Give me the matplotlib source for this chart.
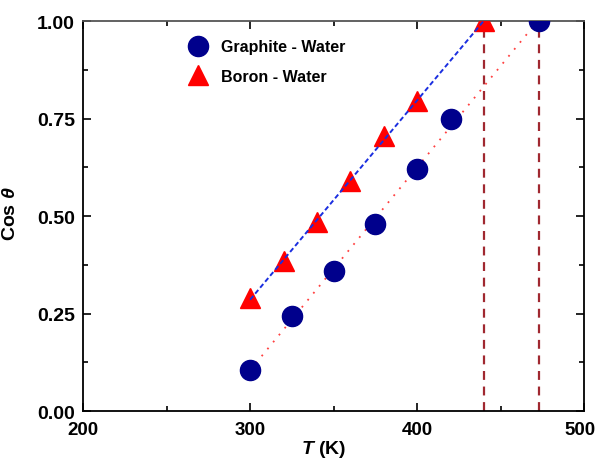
import numpy as np
import matplotlib
matplotlib.use('Agg')
import matplotlib.pyplot as plt
from matplotlib.ticker import MultipleLocator

plt.rcParams['font.family'] = ['Liberation Sans', 'DejaVu Sans']
plt.rcParams['font.weight'] = 'bold'
plt.rcParams['mathtext.fontset'] = 'custom'
plt.rcParams['mathtext.it'] = 'Liberation Sans:italic:bold'
plt.rcParams['mathtext.rm'] = 'Liberation Sans:bold'

# contact angle data, cos(theta) vs temperature
T_graphite = [300, 325, 350, 375, 400, 420, 473]
cos_graphite = [0.105, 0.245, 0.36, 0.48, 0.62, 0.75, 1.0]

T_boron = [300, 320, 340, 360, 380, 400, 440]
cos_boron = [0.29, 0.385, 0.485, 0.59, 0.705, 0.795, 1.0]

# wetting temperatures (cos theta = 1)
T_wet = [440, 473]

x_ticks = [200, 300, 400, 500]

fig = plt.figure(figsize=(5.98, 4.60), dpi=100)
ax = fig.add_axes([0.139, 0.104, 0.838, 0.848])

# linear fits
pg = np.polyfit(T_graphite, cos_graphite, 1)
pb = np.polyfit(T_boron, cos_boron, 1)
tg = np.array([T_graphite[0], T_graphite[-1]])
tb = np.array([T_boron[0], T_boron[-1]])
ax.plot(tg, np.polyval(pg, tg), color='#ff4040', ls=(0, (1, 4)), lw=1.3, zorder=2)
ax.plot(tb, np.polyval(pb, tb), color='#1a2ee0', ls=(0, (2.5, 1.5)), lw=1.4, zorder=4)

for t in T_wet:
    ax.plot([t, t], [0, 1], color='#a02830', ls=(0, (4, 3)), lw=1.6, zorder=1)

ax.plot(T_graphite, cos_graphite, 'o', color='#00008c', markersize=14.5,
        label='Graphite - Water', zorder=3)
ax.plot(T_boron, cos_boron, '^', color='#ff0000', markersize=15,
        label='Boron - Water', zorder=3)

ax.set_xlim(200, 500)
ax.set_ylim(0, 1)
# last x label drawn separately, nudged left to stay inside the figure
ax.set_xticks(x_ticks, [str(v) for v in x_ticks[:-1]] + [''])
ax.annotate(str(x_ticks[-1]), xy=(x_ticks[-1], 0), xycoords=('data', 'axes fraction'),
            xytext=(-3, -7), textcoords='offset points', ha='center', va='top',
            fontsize=13.5, fontweight='bold', annotation_clip=False)
ax.xaxis.set_minor_locator(MultipleLocator(50))
ax.yaxis.set_major_locator(MultipleLocator(0.25))
ax.yaxis.set_minor_locator(MultipleLocator(0.125))
ax.set_yticklabels(['%.2f' % v for v in ax.get_yticks()])
ax.tick_params(which='both', direction='in', top=True, right=True, width=1.2,
               labelsize=14)
ax.tick_params(axis='x', pad=7, labelsize=13.5)
ax.tick_params(axis='y', pad=6)
ax.tick_params(which='major', length=6)
ax.tick_params(which='minor', length=3.5)
for s in ax.spines.values():
    s.set_linewidth(1.3)
ax.spines['top'].set_color('#555555')

ax.set_xlabel('$T$ (K)', fontsize=14, fontweight='bold')
ax.xaxis.set_label_coords(0.48, -0.07)
ax.set_ylabel(r'Cos $\theta$', fontsize=14, fontweight='bold')
ax.yaxis.set_label_coords(-0.128, 0.51)

ax.legend(loc='upper left', bbox_to_anchor=(0.168, 0.99), frameon=False,
          handletextpad=0.45, labelspacing=0.9, numpoints=1,
          prop={'weight': 'bold', 'size': 11.5})

fig.savefig('out.png', dpi=100)
